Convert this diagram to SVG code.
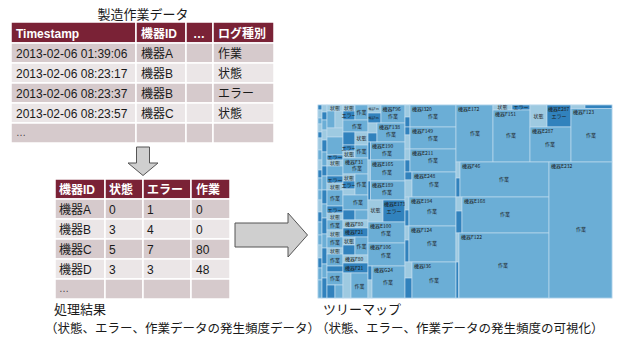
<svg xmlns="http://www.w3.org/2000/svg" width="617" height="337" viewBox="0 0 617 337">
<style>
.hd{fill:#7a2236;stroke:#fff;stroke-width:1.5}
.r1{fill:#d6cacc;stroke:#fff;stroke-width:1.5}
.r2{fill:#ebe6e7;stroke:#fff;stroke-width:1.5}
.ht{font-family:"Liberation Sans","Noto Sans CJK JP",sans-serif;font-size:12px;font-weight:bold;fill:#fff}
.ct{font-family:"Liberation Sans","Noto Sans CJK JP",sans-serif;font-size:12px;fill:#1a1a1a}
.cap{font-family:"Noto Sans CJK JP",sans-serif;font-size:12.5px;fill:#1a1a1a}
.arr{fill:#cfcfcf;stroke:#555;stroke-width:1}
#treemap rect{stroke:#bcd9ee;stroke-width:0.7}
.m{fill:#6baed6}.d{fill:#3182bd}.l{fill:#9ecae1}
.t{font-family:"Noto Sans CJK JP",sans-serif;font-size:5px;fill:#1a1a1a}
.s{font-size:2.8px}
.c{text-anchor:middle}
</style>
<rect width="617" height="337" fill="#fff"/>

<g id="title-raw">
<text x="143" y="19" class="cap" style="font-size:13px" text-anchor="middle">製造作業データ</text>
</g>

<g id="table-raw">
<rect class="hd" x="11" y="22" width="125" height="21"/><rect class="hd" x="136" y="22" width="50" height="21"/><rect class="hd" x="186" y="22" width="27" height="21"/><rect class="hd" x="213" y="22" width="61" height="21"/>
<rect class="r1" x="11" y="43" width="125" height="20"/><rect class="r1" x="136" y="43" width="50" height="20"/><rect class="r1" x="186" y="43" width="27" height="20"/><rect class="r1" x="213" y="43" width="61" height="20"/>
<rect class="r2" x="11" y="63" width="125" height="20"/><rect class="r2" x="136" y="63" width="50" height="20"/><rect class="r2" x="186" y="63" width="27" height="20"/><rect class="r2" x="213" y="63" width="61" height="20"/>
<rect class="r1" x="11" y="83" width="125" height="20"/><rect class="r1" x="136" y="83" width="50" height="20"/><rect class="r1" x="186" y="83" width="27" height="20"/><rect class="r1" x="213" y="83" width="61" height="20"/>
<rect class="r2" x="11" y="103" width="125" height="20"/><rect class="r2" x="136" y="103" width="50" height="20"/><rect class="r2" x="186" y="103" width="27" height="20"/><rect class="r2" x="213" y="103" width="61" height="20"/>
<rect class="r1" x="11" y="123" width="125" height="20"/><rect class="r1" x="136" y="123" width="50" height="20"/><rect class="r1" x="186" y="123" width="27" height="20"/><rect class="r1" x="213" y="123" width="61" height="20"/>
<text class="ht" x="16" y="37.5">Timestamp</text><text class="ht" x="141" y="37.5">機器ID</text><text class="ht" x="193" y="37.5">…</text><text class="ht" x="218" y="37.5">ログ種別</text>
<text class="ct" x="16" y="57.5">2013-02-06 01:39:06</text><text class="ct" x="141" y="57.5">機器A</text><text class="ct" x="218" y="57.5">作業</text>
<text class="ct" x="16" y="77.5">2013-02-06 08:23:17</text><text class="ct" x="141" y="77.5">機器B</text><text class="ct" x="218" y="77.5">状態</text>
<text class="ct" x="16" y="97.5">2013-02-06 08:23:37</text><text class="ct" x="141" y="97.5">機器B</text><text class="ct" x="218" y="97.5">エラー</text>
<text class="ct" x="16" y="117.5">2013-02-06 08:23:57</text><text class="ct" x="141" y="117.5">機器C</text><text class="ct" x="218" y="117.5">状態</text>
<text class="ct" x="16" y="136" style="font-size:10px;fill:#444">…</text>
</g>

<g id="connectors">
<polygon id="arrow-down" class="arr" points="136.5,147 149.5,147 149.5,163 158,163 143,175.5 128,163 136.5,163"/>
<polygon id="arrow-right" class="arr" points="235,223 288,223 288,213 307.5,235 288,257 288,247 235,247"/>
</g>

<g id="table-result">
<rect class="hd" x="55" y="179" width="50" height="20"/><rect class="hd" x="105" y="179" width="38" height="20"/><rect class="hd" x="143" y="179" width="48" height="20"/><rect class="hd" x="191" y="179" width="39" height="20"/>
<rect class="r1" x="55" y="199" width="50" height="20"/><rect class="r1" x="105" y="199" width="38" height="20"/><rect class="r1" x="143" y="199" width="48" height="20"/><rect class="r1" x="191" y="199" width="39" height="20"/>
<rect class="r2" x="55" y="219" width="50" height="20"/><rect class="r2" x="105" y="219" width="38" height="20"/><rect class="r2" x="143" y="219" width="48" height="20"/><rect class="r2" x="191" y="219" width="39" height="20"/>
<rect class="r1" x="55" y="239" width="50" height="20"/><rect class="r1" x="105" y="239" width="38" height="20"/><rect class="r1" x="143" y="239" width="48" height="20"/><rect class="r1" x="191" y="239" width="39" height="20"/>
<rect class="r2" x="55" y="259" width="50" height="20"/><rect class="r2" x="105" y="259" width="38" height="20"/><rect class="r2" x="143" y="259" width="48" height="20"/><rect class="r2" x="191" y="259" width="39" height="20"/>
<rect class="r1" x="55" y="279" width="50" height="20"/><rect class="r1" x="105" y="279" width="38" height="20"/><rect class="r1" x="143" y="279" width="48" height="20"/><rect class="r1" x="191" y="279" width="39" height="20"/>
<text class="ht" x="59" y="193.5">機器ID</text><text class="ht" x="109" y="193.5">状態</text><text class="ht" x="147" y="193.5">エラー</text><text class="ht" x="196" y="193.5">作業</text>
<text class="ct" x="59" y="214">機器A</text><text class="ct" x="109" y="214">0</text><text class="ct" x="147" y="214">1</text><text class="ct" x="196" y="214">0</text>
<text class="ct" x="59" y="234">機器B</text><text class="ct" x="109" y="234">3</text><text class="ct" x="147" y="234">4</text><text class="ct" x="196" y="234">0</text>
<text class="ct" x="59" y="254">機器C</text><text class="ct" x="109" y="254">5</text><text class="ct" x="147" y="254">7</text><text class="ct" x="196" y="254">80</text>
<text class="ct" x="59" y="274">機器D</text><text class="ct" x="109" y="274">3</text><text class="ct" x="147" y="274">3</text><text class="ct" x="196" y="274">48</text>
<text class="ct" x="59" y="292" style="font-size:10px;fill:#444">…</text>
</g>

<g id="caption-result">
<text class="cap" x="54" y="314" style="font-size:13px">処理結果</text>
<text class="cap" x="45" y="333">（状態、エラー、作業データの発生頻度データ）</text>
</g>

<g id="treemap">
<rect class="m" x="318" y="105" width="294" height="193"/>
<rect class="d" x="318" y="105" width="4" height="5"/><rect class="l" x="318" y="110" width="4" height="8"/><rect class="m" x="318" y="118" width="4" height="6"/><rect class="l" x="318" y="124" width="4" height="8"/><rect class="d" x="318" y="132" width="4" height="6"/><rect class="l" x="318" y="138" width="4" height="12"/><rect class="m" x="318" y="150" width="4" height="10"/><rect class="l" x="318" y="160" width="4" height="10"/><rect class="d" x="318" y="170" width="4" height="8"/><rect class="m" x="318" y="178" width="4" height="12"/><rect class="m" x="318" y="190" width="4" height="10"/><rect class="l" x="318" y="200" width="4" height="12"/><rect class="d" x="318" y="212" width="4" height="10"/><rect class="m" x="318" y="222" width="4" height="13"/><rect class="m" x="318" y="235" width="4" height="10"/><rect class="l" x="318" y="245" width="4" height="13"/><rect class="d" x="318" y="258" width="4" height="10"/><rect class="m" x="318" y="268" width="4" height="12"/><rect class="m" x="318" y="280" width="4" height="18"/>
<rect class="l" x="322" y="105" width="5" height="7"/><rect class="d" x="322" y="112" width="5" height="8"/><rect class="m" x="322" y="120" width="5" height="10"/><rect class="l" x="322" y="130" width="5" height="10"/><rect class="d" x="322" y="140" width="5" height="12"/><rect class="m" x="322" y="152" width="5" height="14"/><rect class="d" x="322" y="166" width="5" height="10"/><rect class="m" x="322" y="176" width="5" height="14"/><rect class="d" x="322" y="190" width="5" height="14"/><rect class="m" x="322" y="204" width="5" height="14"/><rect class="d" x="322" y="218" width="5" height="16"/><rect class="m" x="322" y="234" width="5" height="14"/><rect class="d" x="322" y="248" width="5" height="16"/><rect class="m" x="322" y="264" width="5" height="14"/><rect class="d" x="322" y="278" width="5" height="20"/>
<rect class="l" x="327" y="105" width="16" height="6"/><text class="t c" x="335" y="109.8">状態</text>
<rect class="m" x="327" y="111" width="8" height="17"/><rect class="l" x="335" y="111" width="8" height="17"/>
<rect class="l" x="327" y="128" width="16" height="9"/><rect class="m" x="327" y="137" width="16" height="18"/>
<rect class="d" x="327" y="155" width="16" height="5"/><text class="t c" x="335" y="159.3">エラー</text>
<rect class="l" x="327" y="160" width="16" height="6"/><text class="t c" x="335" y="164.8">状態</text>
<rect class="m" x="327" y="166" width="16" height="10"/>
<rect class="d" x="327" y="176" width="16" height="7"/><text class="t c" x="335" y="181.5">エラー</text>
<rect class="l" x="327" y="183" width="16" height="7"/><text class="t c" x="335" y="188.5">状態</text>
<rect class="m" x="327" y="190" width="16" height="16"/><text class="t c" x="335" y="200">作業</text>
<rect class="d" x="327" y="206" width="16" height="7"/><text class="t c" x="335" y="211.5">エラー</text>
<rect class="l" x="327" y="213" width="16" height="7"/><text class="t c" x="335" y="218.5">状態</text>
<rect class="m" x="327" y="220" width="16" height="10"/><text class="t c" x="335" y="226.5">作業</text>
<rect class="l" x="327" y="230" width="16" height="7"/><text class="t c" x="335" y="235.5">状態</text>
<rect class="m" x="327" y="237" width="16" height="11"/><text class="t c" x="335" y="244">作業</text>
<rect class="l" x="327" y="248" width="16" height="6"/><text class="t c" x="335" y="252.8">状態</text>
<rect class="m" x="327" y="254" width="16" height="12"/><text class="t c" x="335" y="261.5">作業</text>
<rect class="d" x="327" y="266" width="16" height="6"/>
<rect class="m" x="327" y="272" width="16" height="13"/><text class="t c" x="335" y="280">作業</text>
<rect class="d" x="327" y="285" width="8" height="13"/><rect class="m" x="335" y="285" width="8" height="13"/>
<rect class="l" x="343" y="105" width="12" height="6"/><text class="t c" x="349" y="109.8">状態</text>
<rect class="d" x="343" y="111" width="12" height="9"/><text class="t c" x="349" y="117">エラー</text>
<rect class="m" x="355" y="105" width="13" height="15"/><text class="t c" x="361.5" y="113.5">作業</text>
<rect class="m" x="343" y="120" width="25" height="12"/><text class="t c" x="357" y="127.5">作業</text>
<rect class="d" x="343" y="132" width="12" height="13"/>
<rect class="l" x="355" y="132" width="13" height="13"/><text class="t c" x="361.5" y="140">状態</text>
<rect class="d" x="343" y="145" width="12" height="6"/><text class="t c" x="349" y="149.8">エラー</text>
<rect class="l" x="343" y="151" width="12" height="7"/><text class="t c" x="349" y="156.3">状態</text>
<rect class="m" x="355" y="145" width="13" height="13"/><text class="t c" x="361.5" y="153">作業</text>
<rect class="m" x="343" y="158" width="25" height="16"/><text class="t" x="345" y="163.5">機器F31</text><text class="t c" x="357" y="169.5">作業</text>
<rect class="l" x="343" y="174" width="12" height="7"/><text class="t c" x="349" y="179.5">状態</text>
<rect class="d" x="343" y="181" width="12" height="8"/><text class="t c" x="349" y="186.8">エラー</text>
<rect class="l" x="343" y="189" width="12" height="6"/>
<rect class="m" x="355" y="174" width="13" height="21"/><text class="t c" x="361.5" y="186">作業</text>
<rect class="m" x="343" y="195" width="25" height="15"/><text class="t c" x="358" y="204">作業</text>
<rect class="d" x="343" y="210" width="12" height="10"/><rect class="m" x="355" y="210" width="13" height="10"/>
<rect class="l" x="343" y="220" width="25" height="8"/><text class="t" x="345" y="225.8">機器F80</text>
<rect class="d" x="343" y="228" width="25" height="9"/><text class="t" x="345" y="234">機器F21</text>
<rect class="l" x="343" y="237" width="12" height="8"/><text class="t c" x="349" y="242.8">状態</text>
<rect class="d" x="343" y="245" width="12" height="10"/>
<rect class="m" x="355" y="237" width="13" height="18"/><text class="t c" x="361.5" y="248">作業</text>
<rect class="l" x="343" y="255" width="25" height="8"/><text class="t" x="345" y="260.8">機器F80</text>
<rect class="d" x="343" y="263" width="25" height="10"/><text class="t" x="345" y="269.5">機器F21</text>
<rect class="l" x="343" y="273" width="8" height="25"/><rect class="m" x="351" y="273" width="17" height="25"/><text class="t c" x="359.5" y="288">作業</text>
<rect class="l" x="368" y="105" width="13" height="8"/><text class="t s" x="368.5" y="110">機器F36</text>
<rect class="d" x="368" y="113" width="13" height="10"/><text class="t s" x="368.5" y="119">機器F85</text>
<rect class="m" x="381" y="105" width="24" height="18"/><text class="t" x="382.5" y="110.5">機器F96</text><text class="t c" x="393" y="118">作業</text>
<rect class="l" x="368" y="123" width="9" height="10"/><rect class="d" x="368" y="133" width="9" height="9"/>
<rect class="m" x="377" y="123" width="28" height="19"/><text class="t" x="379" y="128.5">機器F138</text><text class="t c" x="391" y="136">作業</text>
<rect class="d" x="368" y="142" width="2.5" height="18"/>
<rect class="m" x="370.5" y="142" width="34.5" height="18"/><text class="t" x="372" y="147.5">機器E190</text><text class="t c" x="387" y="154.5">作業</text>
<rect class="l" x="368" y="160" width="2.5" height="21"/>
<rect class="m" x="370.5" y="160" width="34.5" height="21"/><text class="t" x="372" y="165.5">機器E165</text><text class="t c" x="387" y="173.5">作業</text>
<rect class="d" x="368" y="181" width="2.5" height="19"/>
<rect class="m" x="370.5" y="181" width="34.5" height="19"/><text class="t" x="372" y="186.5">機器E189</text><text class="t c" x="387" y="193.5">作業</text>
<rect class="l" x="368" y="200" width="15" height="22"/><text class="t c" x="375.5" y="212">状態</text>
<rect class="d" x="383" y="200" width="22" height="22"/><text class="t" x="384" y="205.5">機器E173</text><text class="t c" x="394" y="212.5">エラー</text>
<rect class="m" x="368" y="222" width="37" height="21"/><text class="t" x="370" y="227.5">機器E100</text><text class="t c" x="386" y="234.5">作業</text>
<rect class="m" x="368" y="243" width="37" height="23"/><text class="t" x="370" y="248.5">機器F106</text><text class="t c" x="386" y="256.5">作業</text>
<rect class="d" x="368" y="266" width="4" height="14"/><rect class="l" x="368" y="280" width="4" height="18"/>
<rect class="m" x="372" y="266" width="33" height="32"/><text class="t" x="374" y="271.5">機器G24</text><text class="t c" x="388" y="283.5">作業</text>
<rect class="l" x="405" y="105" width="5" height="12"/><rect class="d" x="405" y="117" width="5" height="10"/>
<rect class="m" x="410" y="105" width="46" height="22"/><text class="t" x="412" y="110.5">機器I320</text><text class="t c" x="433" y="118">作業</text>
<rect class="d" x="405" y="127" width="5" height="8"/><rect class="l" x="405" y="135" width="5" height="14"/>
<rect class="m" x="410" y="127" width="46" height="22"/><text class="t" x="412" y="132.5">機器F149</text><text class="t c" x="433" y="140">作業</text>
<rect class="l" x="405" y="149" width="5" height="11"/><rect class="d" x="405" y="160" width="5" height="12"/>
<rect class="m" x="410" y="149" width="46" height="23"/><text class="t" x="412" y="154.5">機器E211</text><text class="t c" x="433" y="162">作業</text>
<rect class="d" x="405" y="172" width="7" height="8"/><rect class="l" x="405" y="180" width="7" height="17"/>
<rect class="m" x="412" y="172" width="44" height="25"/><text class="t" x="414" y="177.5">機器E248</text><text class="t c" x="434" y="186">作業</text>
<rect class="l" x="405" y="197" width="4" height="13"/><rect class="d" x="405" y="210" width="4" height="16"/>
<rect class="m" x="409" y="197" width="47" height="29"/><text class="t" x="411" y="202.5">機器E194</text><text class="t c" x="432" y="213">作業</text>
<rect class="l" x="405" y="226" width="4" height="14"/><rect class="d" x="405" y="240" width="4" height="22"/>
<rect class="m" x="409" y="226" width="47" height="36"/><text class="t" x="411" y="231.5">機器F124</text><text class="t c" x="432" y="245">作業</text>
<rect class="l" x="405" y="262" width="7" height="16"/><rect class="d" x="405" y="278" width="7" height="20"/>
<rect class="m" x="412" y="262" width="44" height="36"/><text class="t" x="414" y="267.5">機器I36</text><text class="t c" x="434" y="282">作業</text>
<rect class="m" x="456" y="105" width="37" height="57"/><text class="t" x="458" y="110.5">機器E172</text><text class="t c" x="475" y="135">作業</text>
<rect class="l" x="493" y="105" width="19" height="5"/><text class="t c" x="502.5" y="109.3">状態</text>
<rect class="d" x="512" y="105" width="18" height="5"/><text class="t c" x="521" y="109.3">エラー</text>
<rect class="m" x="493" y="110" width="37" height="52"/><text class="t" x="495" y="115.5">機器F151</text><text class="t c" x="511" y="137">作業</text>
<rect class="l" x="530" y="105" width="17" height="22"/><text class="t c" x="538.5" y="118">状態</text>
<rect class="d" x="547" y="105" width="24" height="22"/><text class="t" x="548" y="110.5">機器E287</text><text class="t c" x="559" y="118">エラー</text>
<rect class="m" x="530" y="127" width="41" height="35"/><text class="t" x="532" y="132.5">機器E287</text><text class="t c" x="550" y="146">作業</text>
<rect class="l" x="571" y="105" width="14" height="3.5"/><rect class="d" x="585" y="105" width="27" height="3.5"/>
<rect class="m" x="571" y="108.5" width="41" height="53.5"/><text class="t" x="573" y="114">機器F123</text><text class="t c" x="591" y="137">作業</text>
<rect class="l" x="456" y="162" width="4" height="16"/><rect class="d" x="456" y="178" width="4" height="19"/>
<rect class="m" x="460" y="162" width="89" height="35"/><text class="t" x="462" y="167.5">機器F46</text><text class="t c" x="504" y="181">作業</text>
<rect class="l" x="456" y="197" width="6" height="14"/><rect class="d" x="456" y="211" width="6" height="22"/>
<rect class="m" x="462" y="197" width="87" height="36"/><text class="t" x="464" y="202.5">機器E168</text><text class="t c" x="505" y="216">作業</text>
<rect class="l" x="456" y="233" width="3" height="29"/><rect class="d" x="456" y="262" width="2.5" height="36"/>
<rect class="m" x="459" y="233" width="90" height="65"/><text class="t" x="461" y="238.5">機器F122</text><text class="t c" x="503" y="267">作業</text>
<rect class="m" x="549" y="162" width="63" height="136"/><text class="t" x="551" y="167.5">機器E232</text><text class="t c" x="581" y="231">作業</text>
</g>

<g id="caption-treemap">
<text class="cap" x="323" y="314" style="font-size:13px">ツリーマップ</text>
<text class="cap" x="316" y="333">（状態、エラー、作業データの発生頻度の可視化）</text>
</g>
</svg>
